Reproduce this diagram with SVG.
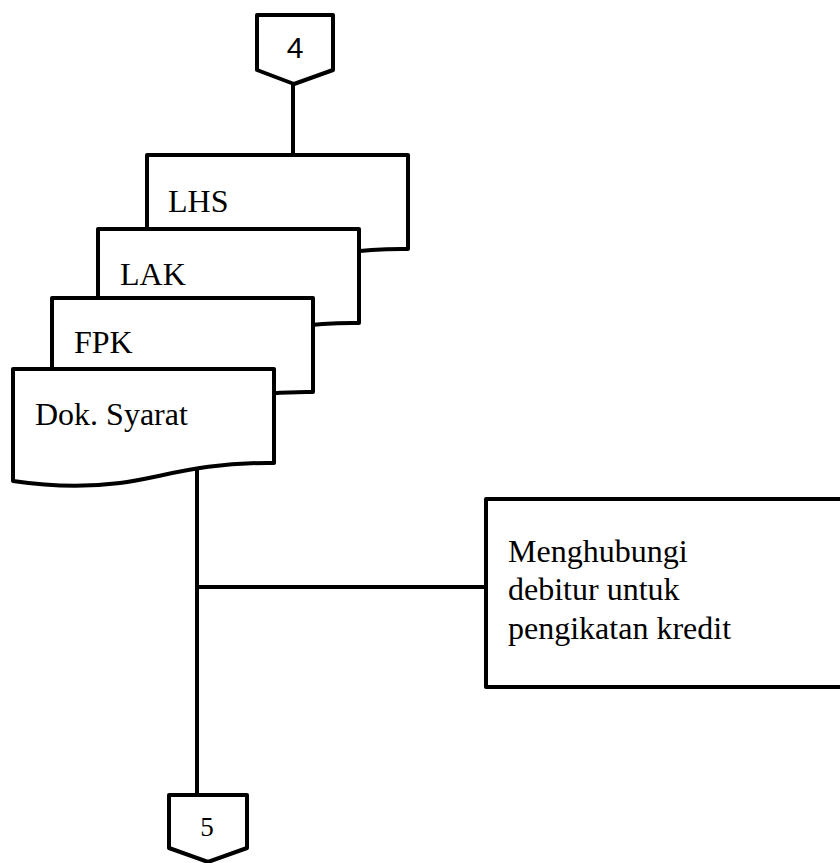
<svg xmlns="http://www.w3.org/2000/svg" width="840" height="863" viewBox="0 0 840 863">
  <style>
    .shape { fill: #fff; stroke: #000; stroke-width: 4; stroke-linejoin: round; }
    .wire { fill: none; stroke: #000; stroke-width: 4; }
    .lbl { font-family: "Liberation Serif", "Times New Roman", serif; font-size: 32px; fill: #000; }
    .num { font-family: "Liberation Serif", "Times New Roman", serif; font-size: 27px; fill: #000; text-anchor: middle; }
  </style>
  <defs>
    <!-- document symbol: flat top, wavy bottom -->
    <path id="doc" d="M0,0 H261 V94 C187,93 147,109 107,114 C67,119 27,116 0,112 Z"/>
  </defs>
  <rect width="840" height="863" fill="#fff"/>

  <g id="connectors">
    <line class="wire" x1="293" y1="83" x2="293" y2="155"/>
    <line class="wire" x1="197" y1="470" x2="197" y2="797"/>
    <line class="wire" x1="197" y1="587" x2="486" y2="587"/>
  </g>

  <g id="offpage-4">
    <path class="shape" d="M257,15 H333 V70 L294,84 L257,70 Z"/>
    <text class="num" x="295" y="58" style="font-family:'Liberation Sans', Arial, sans-serif; font-size:30px">4</text>
  </g>

  <g id="doc-lhs">
    <use href="#doc" class="shape" transform="translate(147,155)"/>
    <text class="lbl" x="168" y="212">LHS</text>
  </g>
  <g id="doc-lak">
    <use href="#doc" class="shape" transform="translate(98,229)"/>
    <text class="lbl" x="120" y="285">LAK</text>
  </g>
  <g id="doc-fpk">
    <use href="#doc" class="shape" transform="translate(52,298)"/>
    <text class="lbl" x="74" y="353">FPK</text>
  </g>
  <g id="doc-syarat">
    <use href="#doc" class="shape" transform="translate(13,369)"/>
    <text class="lbl" x="35" y="425">Dok. Syarat</text>
  </g>

  <g id="process-hubungi">
    <rect class="shape" x="486" y="499" width="370" height="188"/>
    <text class="lbl" x="508" y="562">Menghubungi</text>
    <text class="lbl" x="508" y="600">debitur untuk</text>
    <text class="lbl" x="508" y="639">pengikatan kredit</text>
  </g>

  <g id="offpage-5">
    <path class="shape" d="M169,795 H247 V848 L208,862 L169,848 Z"/>
    <text class="num" x="207" y="836">5</text>
  </g>
</svg>
